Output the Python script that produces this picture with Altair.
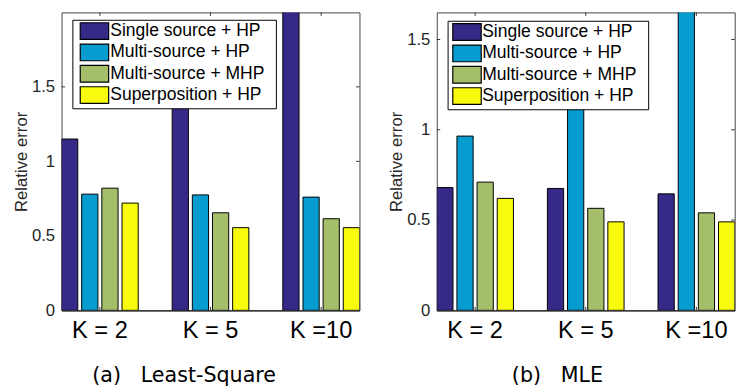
import altair as alt
import pandas as pd

groups = ["K = 2", "K = 5", "K =10"]
series = ["Single source + HP", "Multi-source + HP", "Multi-source + MHP", "Superposition + HP"]
colors = ["#352a87", "#079ccf", "#a5be6a", "#f9fb0e"]

# Least-Square panel values (per series, per K)
ls_single = [1.15, 1.60, 2.30]
ls_multi = [0.78, 0.775, 0.76]
ls_multi_mhp = [0.82, 0.655, 0.615]
ls_super = [0.72, 0.555, 0.555]

# MLE panel values
mle_single = [0.68, 0.675, 0.645]
mle_multi = [0.965, 1.35, 1.90]
mle_multi_mhp = [0.71, 0.565, 0.54]
mle_super = [0.62, 0.49, 0.49]

y_ticks = [0, 0.5, 1, 1.5]

W = 303
H = 303
AX_FONT = "Liberation Sans"


def panel(vals, ymax, caption, dx, legend_y, sym_off, lab_off):
    rows = []
    for s, v in zip(series, vals):
        for g, x in zip(groups, v):
            rows.append({"K": g, "S": s, "v": x})
    df = pd.DataFrame(rows)
    df_t = pd.DataFrame({"v": y_ticks})
    df_g = pd.DataFrame({"K": groups})

    yscale = alt.Scale(domain=[0, ymax], nice=False, zero=True)
    yaxis = alt.Axis(
        values=y_ticks, format="~g", title="Relative error",
        titleFont=AX_FONT, titleFontSize=17, titleFontWeight="normal",
        titleColor="#262626", titlePadding=1,
        labelFont=AX_FONT, labelFontSize=17, labelColor="#262626",
        labelPadding=7, ticks=False, tickSize=0, domain=False, grid=False,
    )
    xscale = alt.Scale(paddingInner=0.307, paddingOuter=0)
    xaxis = alt.Axis(
        title=None, labelAngle=0, labelFont=AX_FONT, labelFontSize=24,
        labelColor="black", labelPadding=9, ticks=False, domain=True,
        domainColor="#222222", domainWidth=1.2, grid=False,
    )
    X = alt.X("K:N", sort=groups, scale=xscale, axis=xaxis)
    Y = alt.Y("v:Q", scale=yscale, axis=yaxis)

    tick_style = dict(color="#333333", strokeWidth=1)
    left_ticks = alt.Chart(df_t).mark_rule(**tick_style).encode(
        y=Y, x=alt.value(0), x2=alt.value(3.5))
    right_ticks = alt.Chart(df_t).mark_rule(**tick_style).encode(
        y=Y, x=alt.value(W - 3.5), x2=alt.value(W))
    top_ticks = alt.Chart(df_g).mark_rule(**tick_style).encode(
        x=X, y=alt.value(0), y2=alt.value(3.5))
    bottom_ticks = alt.Chart(df_g).mark_rule(**tick_style).encode(
        x=X, y=alt.value(H - 3.5), y2=alt.value(H))

    bars = alt.Chart(df).mark_bar(stroke="black", strokeWidth=1, clip=True).encode(
        x=X,
        xOffset=alt.XOffset("S:N", sort=series,
                            scale=alt.Scale(paddingInner=0.195, paddingOuter=0)),
        y=Y,
        color=alt.Color(
            "S:N", sort=series,
            scale=alt.Scale(domain=series, range=colors),
            legend=alt.Legend(
                orient="none", legendX=11, legendY=legend_y, title=None,
                symbolType="M-1,-1H2.4V1H-1Z", symbolSize=289,
                symbolStrokeColor="black", symbolStrokeWidth=1.2,
                symbolOpacity=1, symbolOffset=sym_off, labelOffset=lab_off,
                labelFont=AX_FONT, labelFontSize=17.8, labelColor="black",
                labelExpr="datum.label + '\u00a0\u00a0\u200b'",
                padding=2, rowPadding=-1.3, strokeColor="black",
                fillColor="white", cornerRadius=0, labelLimit=400,
            ),
        ),
    )

    return alt.layer(left_ticks, right_ticks, top_ticks, bottom_ticks, bars).properties(
        width=W, height=H,
        title=alt.TitleParams(
            caption, orient="bottom", anchor="middle", font="DejaVu Sans",
            fontSize=21, fontWeight="normal", color="black", offset=23, dx=dx,
        ),
    )


left = panel([ls_single, ls_multi, ls_multi_mhp, ls_super], 2.0,
             "(a)\u00a0\u00a0\u00a0Least-Square", -26.8, 7.5, 5, 12.5)
right = panel([mle_single, mle_multi, mle_multi_mhp, mle_super], 1.65,
              "(b)\u00a0\u00a0\u00a0MLE", -28.8, 8.5, 2.3, 11.9)

chart = alt.hconcat(left, right, spacing=26.6).resolve_scale(
    color="independent", x="independent", y="independent"
).resolve_legend(color="independent").properties(
    padding={"left": 11.6, "top": 8.3, "right": 5, "bottom": 0},
    background="white",
).configure_view(stroke="#444444", strokeWidth=1)

chart.save("out.html", embed_options={"renderer": "svg", "actions": False})
